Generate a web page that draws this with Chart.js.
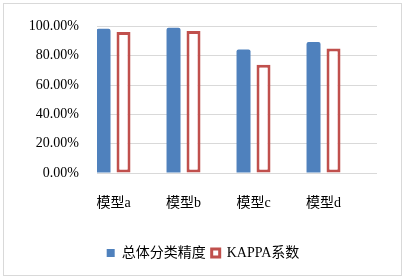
<!DOCTYPE html>
<html>
<head>
<meta charset="utf-8">
<script src="https://cdn.jsdelivr.net/npm/chart.js@4.4.1/dist/chart.umd.min.js"></script>
<style>
  html, body { margin: 0; padding: 0; background: #fff; }
  #wrap { position: relative; width: 406px; height: 279px; }
  #frame { position: absolute; left: 3px; top: 3px; width: 397px; height: 271px; border: 1px solid #d9d9d9; pointer-events: none; }
</style>
</head>
<body>
<div id="wrap">
  <canvas id="c"></canvas>
  <div id="frame"></div>
</div>
<script>
const categories = ['模型a', '模型b', '模型c', '模型d'];
const seriesNames = ['总体分类精度', 'KAPPA系数'];
const overallAccuracy = [0.984, 0.991, 0.843, 0.893];
const kappa = [0.961, 0.968, 0.738, 0.850];
const yTicks = [0, 0.2, 0.4, 0.6, 0.8, 1.0];

const BLUE = '#4F81BD';
const RED = '#C0504D';
const FONT = "'Liberation Serif', 'Noto Sans CJK SC', serif";

const toPoints = arr => arr.map((v, i) => ({ x: i, y: v }));

new Chart(document.getElementById('c'), {
  type: 'bar',
  data: {
    datasets: [
      {
        label: seriesNames[0],
        data: toPoints(overallAccuracy),
        backgroundColor: BLUE,
        borderColor: BLUE,
        borderWidth: 0,
        borderRadius: { topLeft: 2, topRight: 2 },
        borderSkipped: false,
        categoryPercentage: 0.571,
        barPercentage: 0.7
      },
      {
        label: seriesNames[1],
        data: toPoints(kappa),
        backgroundColor: '#ffffff',
        borderColor: RED,
        borderWidth: 3,
        borderSkipped: false,
        categoryPercentage: 0.571,
        barPercentage: 0.7
      }
    ]
  },
  options: {
    responsive: true,
    maintainAspectRatio: false,
    devicePixelRatio: 1,
    animation: false,
    layout: { padding: { left: 0, right: 0, top: 25, bottom: 9 } },
    plugins: {
      tooltip: { enabled: false },
      legend: {
        position: 'bottom',
        labels: {
          boxWidth: 8,
          boxHeight: 8,
          padding: 6,
          color: '#000',
          font: { family: FONT, size: 14 }
        }
      }
    },
    scales: {
      x: {
        type: 'linear',
        min: -0.236,
        max: 3.764,
        offset: false,
        grid: { display: false, drawTicks: false },
        border: { display: false },
        afterBuildTicks: s => { s.ticks = categories.map((_, i) => ({ value: i })); },
        afterFit: s => { s.height = 67; },
        ticks: {
          autoSkip: false,
          maxRotation: 0,
          padding: 22,
          color: '#000',
          font: { family: FONT, size: 14 },
          callback: v => categories[v] ?? ''
        }
      },
      y: {
        min: 0,
        max: 1,
        afterBuildTicks: s => { s.ticks = yTicks.map(v => ({ value: v })); },
        afterFit: s => { s.width = 97; },
        grid: { color: '#d9d9d9', lineWidth: 1, drawTicks: false },
        border: { display: false },
        ticks: {
          padding: 18,
          color: '#000',
          font: { family: FONT, size: 14 },
          callback: v => (v * 100).toFixed(2) + '%'
        }
      },
      yRight: {
        position: 'right',
        min: 0,
        max: 1,
        grid: { drawOnChartArea: false, drawTicks: false, display: false },
        border: { display: false },
        ticks: { display: false },
        afterFit: s => { s.width = 29; }
      }
    }
  }
});
</script>
</body>
</html>
